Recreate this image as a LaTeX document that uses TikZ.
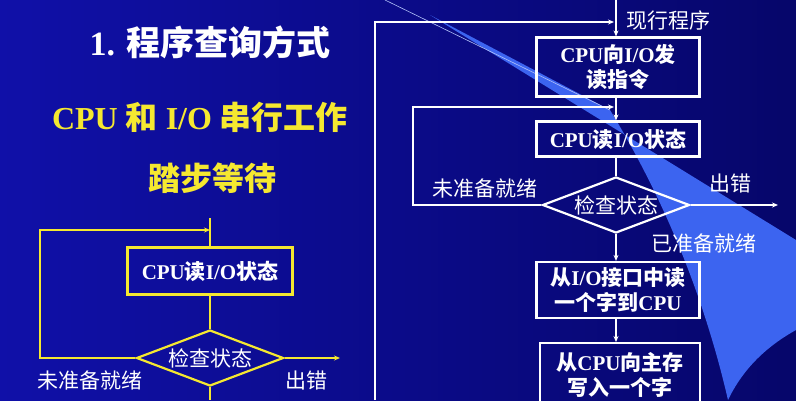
\documentclass[tikz,border=0pt]{standalone}
\usepackage{fontspec}
\setmainfont{Liberation Serif}
\newfontfamily\cjk{Noto Sans CJK SC}
\newcommand{\zh}[1]{{\cjk #1}}
\usetikzlibrary{shapes.geometric,arrows.meta}
\definecolor{bgblue}{HTML}{1010A8}
\definecolor{bgdark}{HTML}{06066A}
\definecolor{band}{HTML}{3C64F0}
\definecolor{ylw}{HTML}{F5E830}
\begin{document}
\begin{tikzpicture}[x=1pt,y=-1pt,
  wline/.style={draw=white,line width=2.2pt},
  yline/.style={draw=ylw,line width=2.2pt},
  arr/.style={-{Stealth[length=6pt,width=5pt]}},
  wbox/.style={wline,minimum width=163pt,align=center,font=\bfseries\fontsize{21}{25}\selectfont,text=white,inner sep=1pt},
  ybox/.style={yline,minimum width=165pt,minimum height=47pt,align=center,font=\bfseries\fontsize{21}{25}\selectfont,text=white},
  wdia/.style={wline,diamond,aspect=2.6,minimum width=147pt,minimum height=56pt,inner sep=0pt,font=\fontsize{21}{25}\selectfont,text=white},
  lbl/.style={text=white,font=\fontsize{21}{25}\selectfont}]
\useasboundingbox (0,0) rectangle (796,400);
\shade[left color=bgblue,right color=bgdark] (0,0) rectangle (796,400);
\fill[band] (430,15) -- (796,240) -- (796,330) .. controls (760,350) and (740,375) .. (728,400) .. controls (705,300) and (665,200) .. (610,110) -- cycle;
\draw[white!60!band,line width=0.6pt] (385,0) -- (610,110);
% titles
\node[text=white,font=\bfseries\fontsize{34}{38}\selectfont] (t1) at (210,42) {1. \zh{程序查询方式}};
\node[text=ylw,font=\bfseries\fontsize{32}{36}\selectfont] (t2) at (200,117) {CPU \zh{和} I/O \zh{串行工作}};
\node[text=ylw,font=\bfseries\fontsize{32}{36}\selectfont] (t3) at (212,178) {\zh{踏步等待}};
% left flow
\node[ybox] (lb) at (210,271) {CPU\zh{读}I/O\zh{状态}};
\node[wdia,draw=ylw] (ld) at (210,358) {\zh{检查状态}};
\coordinate (ltop) at (210,218);
\coordinate (lcorner1) at (40,358);
\coordinate (lcorner2) at (40,230);
\coordinate (lin) at (210,230);
\coordinate (lout) at (340,358);
\coordinate (lbot) at (210,400);
\draw[yline] (ltop) -- (lb.north);
\draw[yline] (lb.south) -- (ld.north);
\draw[yline,arr] (ld.west) -- (lcorner1) -- (lcorner2) -- (lin);
\draw[yline,arr] (ld.east) -- (lout);
\draw[yline] (ld.south) -- (lbot);
\node[lbl] (lnr) at (90,380) {\zh{未准备就绪}};
\node[lbl] (ler) at (306,380) {\zh{出错}};
% right flow
\node[wbox,minimum height=59pt] (b1) at (618,67) {CPU\zh{向}I/O\zh{发}\\\zh{读指令}};
\node[wbox,minimum height=35pt] (b2) at (618,139) {CPU\zh{读}I/O\zh{状态}};
\node[wdia] (d) at (616,205) {\zh{检查状态}};
\node[wbox,minimum height=56pt] (b3) at (618,290) {\zh{从}I/O\zh{接口中读}\\\zh{一个字到}CPU};
\node[wbox,minimum height=64pt,minimum width=160pt,anchor=north] (b4) at (620,342) {\zh{从}CPU\zh{向主存}\\\zh{写入一个字}};
\coordinate (rtop) at (616,0);
\coordinate (rin) at (614,22);
\coordinate (rc1) at (375,400);
\coordinate (rc2) at (375,22);
\coordinate (iin) at (614,107);
\coordinate (ic1) at (413,205);
\coordinate (ic2) at (413,107);
\coordinate (rout) at (778,205);
\draw[wline,arr] (rtop) -- (b1.north -| rtop);
\draw[wline,arr] (rc1) -- (rc2) -- (rin);
\draw[wline,arr] (b1.south -| rtop) -- (b2.north -| rtop);
\draw[wline,arr] (d.west) -- (ic1) -- (ic2) -- (iin);
\draw[wline] (b2.south -| rtop) -- (d.north);
\draw[wline,arr] (d.east) -- (rout);
\draw[wline,arr] (d.south) -- (b3.north -| d.south);
\draw[wline,arr] (b3.south -| d.south) -- (b4.north -| d.south);
\node[lbl] (cur) at (668,20) {\zh{现行程序}};
\node[lbl] (rnr) at (485,188) {\zh{未准备就绪}};
\node[lbl] (rer) at (730,183) {\zh{出错}};
\node[lbl] (rok) at (704,243) {\zh{已准备就绪}};
\end{tikzpicture}
\end{document}
